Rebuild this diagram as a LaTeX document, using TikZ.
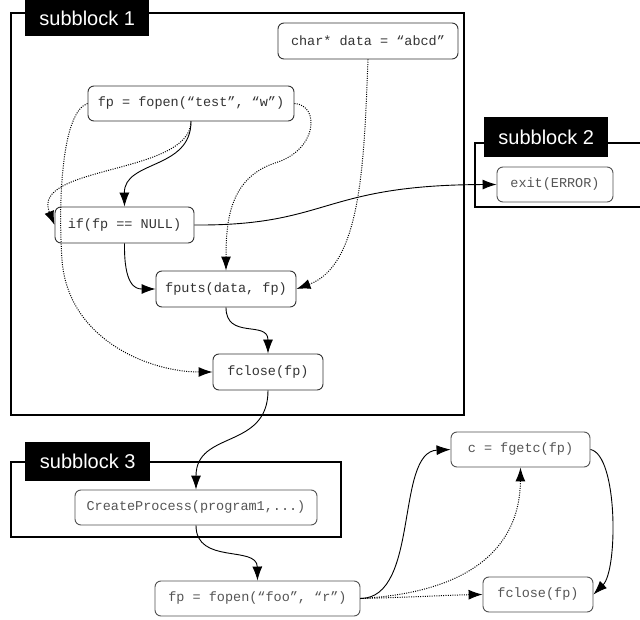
\documentclass[tikz,border=0pt]{standalone}
\usepackage{fontspec}
\setmainfont{Liberation Sans}
\newfontfamily\codefont{Liberation Mono}
\usetikzlibrary{arrows.meta}
\definecolor{nodeborder}{HTML}{333333}
\definecolor{codedark}{HTML}{333333}
\definecolor{codelight}{HTML}{555555}
\begin{document}
\begin{tikzpicture}[x=1pt,y=-1pt,
  codebox/.style={draw=nodeborder, line width=0.9pt, rounded corners=6pt, fill=white,
    font=\codefont\fontsize{13.5}{15}\selectfont, text=codedark,
    minimum height=35pt, inner sep=0pt, anchor=center},
  lightbox/.style={codebox, text=codelight, draw=nodeborder!85},
  frame/.style={draw=black, line width=1.4pt},
  blocklabel/.style={fill=black, text=white, font=\fontsize{20}{22}\selectfont,
    inner sep=0pt, anchor=north west},
  flow/.style={draw=black, line width=0.9pt, -{Latex[length=14pt,width=10pt]}},
  dep/.style={flow, dash pattern=on 1pt off 1.3pt, line width=1pt}
]
\useasboundingbox (0,0) rectangle (640,620);
\fill[white] (0,0) rectangle (640,620);

% frames
\draw[frame] (11,13) rectangle (464,415);
\draw[frame] (645,143) -- (475,143) -- (475,207) -- (645,207);
\draw[frame] (11,462) rectangle (341,537);

% labels
\node[blocklabel, minimum width=124pt, minimum height=36pt] (lab1) at (25,0) {subblock 1};
\node[blocklabel, minimum width=124pt, minimum height=40pt] (lab2) at (484,117) {subblock 2};
\node[blocklabel, minimum width=125pt, minimum height=39pt] (lab3) at (25,442) {subblock 3};

% nodes
\node[codebox, minimum width=180pt, minimum height=36pt] (data) at (368,41) {char* data = “abcd”};
\node[codebox, minimum width=206pt] (fopenw) at (191,103.5) {fp = fopen(“test”, “w”)};
\node[codebox, minimum width=139pt, minimum height=36pt] (ifnull) at (124.5,225) {if(fp == NULL)};
\node[codebox, minimum width=140pt, minimum height=36pt] (fputs) at (226,289) {fputs(data, fp)};
\node[codebox, minimum width=110pt, minimum height=36pt] (fclosea) at (268,372) {fclose(fp)};
\node[lightbox, minimum width=116pt] (exit) at (555,184.5) {exit(ERROR)};
\node[lightbox, minimum width=242pt] (create) at (196,507.5) {CreateProcess(program1,...)};
\node[lightbox, minimum width=205pt] (fopenr) at (257.5,598.5) {fp = fopen(“foo”, “r”)};
\node[lightbox, minimum width=139pt] (fgetc) at (520.5,449.5) {c = fgetc(fp)};
\node[lightbox, minimum width=110pt] (fcloseb) at (538,594.5) {fclose(fp)};

% solid connectors
\draw[flow] (fopenw.south) .. controls (191,170) and (124,160) .. (ifnull.north);
\draw[flow] (ifnull.east) .. controls (330,226) and (320,185) .. (exit.west);
\draw[flow] (ifnull.south) .. controls (124,285) and (135,289) .. (fputs.west);
\draw[flow] (fputs.south) .. controls (226,340) and (268,320) .. (fclosea.north);
\draw[flow] (fclosea.south) .. controls (268,450) and (196,430) .. (create.north);
\draw[flow] (create.south) .. controls (196,565) and (257,545) .. (fopenr.north);
\draw[flow] (fopenr.east) .. controls (420,598) and (395,452) .. (fgetc.west);
\draw[flow] (fgetc.east) .. controls (618,455) and (618,570) .. (fcloseb.east);

% dotted connectors
\draw[dep] (fopenw.south) .. controls (190,175) and (30,165) .. (ifnull.west);
\draw[dep] (fopenw.west) .. controls (62,112) and (58,200) .. (62,260)
  .. controls (68,340) and (150,372) .. (fclosea.west);
\draw[dep] (fopenw.east) .. controls (320,105) and (318,150) .. (275,163)
  .. controls (230,178) and (226,220) .. (fputs.north);
\draw[dep] (data.south) .. controls (364,160) and (362,265) .. (fputs.east);
\draw[dep] (fopenr.east) .. controls (480,592) and (520,540) .. (fgetc.south);
\draw[dep] (fopenr.east) .. controls (420,597) and (450,595) .. (fcloseb.west);
\end{tikzpicture}
\end{document}
